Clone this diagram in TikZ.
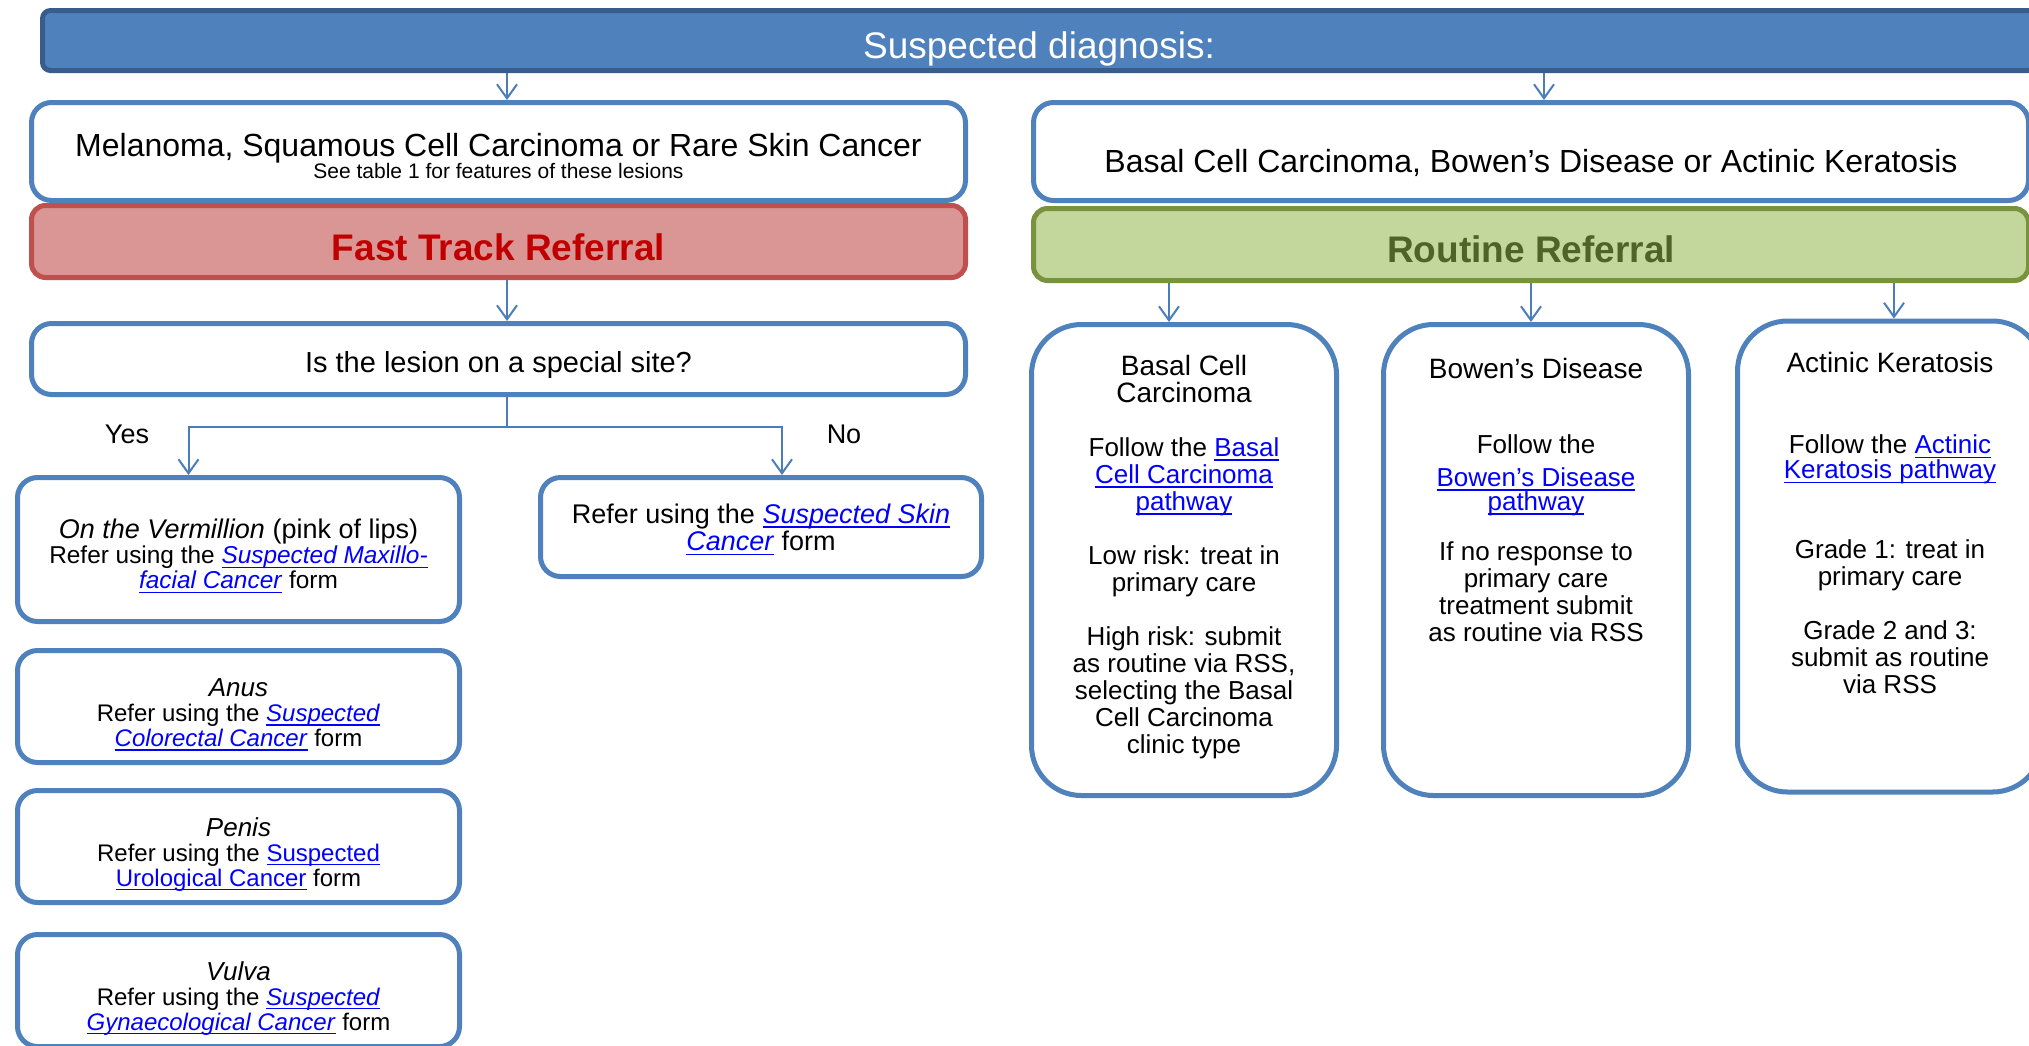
\documentclass[tikz,border=0pt]{standalone}
\usepackage{fontspec}
\setmainfont{Liberation Sans}
\usepackage{tikz}
\usetikzlibrary{positioning,arrows.meta}

\definecolor{barblue}{HTML}{4F81BD}
\definecolor{bardark}{HTML}{385D8A}
\definecolor{lineblue}{HTML}{4A7EBB}
\definecolor{linkblue}{HTML}{0000FF}
\definecolor{ftfill}{HTML}{D99694}
\definecolor{ftdraw}{HTML}{C0504D}
\definecolor{fttext}{HTML}{C00000}
\definecolor{rrfill}{HTML}{C3D69B}
\definecolor{rrdraw}{HTML}{77933C}
\definecolor{rrtext}{HTML}{4F6228}

\newcommand{\fsz}[2]{\fontsize{#1}{#2}\selectfont}
\newcommand{\lnk}[1]{\textcolor{linkblue}{\setbox0\hbox{#1}\rlap{\rule[-2.2pt]{\wd0}{0.8pt}}\box0}}

\begin{document}
\begin{tikzpicture}[x=0.5pt, y=-0.5pt, node distance={12pt},
    box/.style = {draw=barblue, line width=2.5pt, fill=white, rounded corners=10pt, align=center, inner sep=0pt},
    tall/.style = {box, rounded corners=25pt, minimum width=152.5pt, minimum height=235.5pt},
    site/.style = {box, minimum width=221pt, minimum height=56pt, font=\fsz{12}{12.5}, text height=42pt},
    txt/.style = {align=center, inner sep=0pt, outer sep=0pt},
    arr/.style = {draw=lineblue, line width=1pt, -{Straight Barb[length=7pt, width=10pt]}}]
    \useasboundingbox (0,0) rectangle (2029,1045);
    \clip (0,0) rectangle (2029,1045);

    \node[draw=bardark, fill=barblue, line width=2.5pt, rounded corners=4pt, minimum width=996.5pt, minimum height=30pt, text=white, font=\fsz{18.5}{20}, text height=17.5pt, text depth=0pt] (1) at (1039,40.5) {Suspected diagnosis:};

    % fast track side
    \node[box, minimum width=467pt, minimum height=49pt, font=\fsz{16}{11}, text height=27pt] (2) at (498.5,151.5) {Melanoma, Squamous Cell Carcinoma or Rare Skin Cancer\\{\fsz{10.5}{11}See table 1 for features of these lesions}};
    \node[box, draw=ftdraw, fill=ftfill, rounded corners=7pt, minimum width=467pt, minimum height=36pt, text=fttext, font=\fsz{18.5}{20}\bfseries, text height=18.5pt, text depth=0pt, below=0pt of 2] (3) {Fast Track Referral};
    \node[box, minimum width=467pt, minimum height=35.5pt, font=\fsz{14.5}{14.5}, text height=13pt, text depth=0pt, below=20.5pt of 3] (6) {Is the lesion on a special site?};

    \node[box, minimum width=221pt, minimum height=72pt, font=\fsz{12.2}{12.5}, text height=41.5pt] (7) at (238.5,549.5) {{\fsz{13.5}{13}\textit{On the Vermillion} (pink of lips)}\\Refer using the \lnk{\textit{Suspected Maxillo-}}\\\lnk{\textit{facial Cancer}} form};
    \node[box, minimum width=220.5pt, minimum height=49.5pt, font=\fsz{13.5}{12.5}, text height=26pt] (8) at (761,527) {Refer using the \lnk{\textit{Suspected Skin}}\\\lnk{\textit{Cancer}} form};
    \node[site, below=12pt of 7] (9) {{\fsz{13}{13}\textit{Anus}}\\Refer using the \lnk{\textit{Suspected}}\\\lnk{\textit{Colorectal Cancer}} form};
    \node[site, below=11.5pt of 9] (10) {{\fsz{13}{13}\textit{Penis}}\\Refer using the \lnk{Suspected}\\\lnk{Urological Cancer} form};
    \node[site, below=13.5pt of 10] (11) {{\fsz{13}{13}\textit{Vulva}}\\Refer using the \lnk{\textit{Suspected}}\\\lnk{\textit{Gynaecological Cancer}} form};

    \node[txt, font=\fsz{13.5}{13.5}, anchor=base] (16) at (127,443) {Yes};
    \node[txt, font=\fsz{13.5}{13.5}, anchor=base] (17) at (844,443) {No};

    % routine side
    \node[box, minimum width=497.5pt, minimum height=49pt, font=\fsz{16}{16}, text height=20.5pt, text depth=0pt] (4) at (1531,151.5) {Basal Cell Carcinoma, Bowen’s Disease or Actinic Keratosis};
    \node[box, draw=rrdraw, fill=rrfill, rounded corners=7pt, minimum width=497.5pt, minimum height=36pt, text=rrtext, font=\fsz{18.5}{20}\bfseries, text height=17.5pt, text depth=0pt, below=1.5pt of 4] (5) {Routine Referral};

    \node[tall] (12) at (1184,560) {};
    \node[tall, right=21pt of 12] (13) {};
    \node[tall, right=22pt of 13, yshift=1.75pt] (14) {};

    \node[txt, below=16.5pt of 12.north, font=\fsz{13}{13.5}] (15) {{\fsz{14}{14}Basal Cell}\\{\fsz{14}{14}Carcinoma}\\[13.5pt]Follow the \lnk{Basal}\\\lnk{Cell Carcinoma}\\\lnk{pathway}\\[13.5pt]Low risk: treat in\\primary care\\[13.5pt]High risk: submit\\as routine via RSS,\\selecting the Basal\\Cell Carcinoma\\clinic type};
    \node[txt, below=18pt of 13.north, font=\fsz{13}{13.5}] (18) {{\fsz{14}{14}Bowen’s Disease}\\[24pt]Follow the\\[3pt]\lnk{Bowen’s Disease}\\[-1.5pt]\lnk{pathway}\\[11.5pt]If no response to\\primary care\\treatment submit\\as routine via RSS};
    \node[txt, below=17pt of 14.north, font=\fsz{13}{13.5}] (19) {{\fsz{14}{14}Actinic Keratosis}\\[27pt]Follow the \lnk{Actinic}\\[-1pt]\lnk{Keratosis pathway}\\[26.5pt]Grade 1: treat in\\primary care\\[13.5pt]Grade 2 and 3:\\submit as routine\\via RSS};

    % connectors
    \draw[arr, transform canvas={xshift=4.25pt}] (2.north |- 1.south) -- (2.north);
    \draw[arr, transform canvas={xshift=6.5pt}] (4.north |- 1.south) -- (4.north);
    \draw[arr, transform canvas={xshift=4.25pt}] (3.south) -- (6.north);
    \draw[arr] ([xshift=4.25pt]6.south) -- ++(0,30) -| ([xshift=-25pt]7.north);
    \draw[arr] ([xshift=4.25pt]6.south) ++(0,30) -| ([xshift=10.5pt]8.north);
    \draw[arr, transform canvas={xshift=-7.5pt}] (12.north |- 5.south) -- (12.north);
    \draw[arr, transform canvas={xshift=-2.5pt}] (13.north |- 5.south) -- (13.north);
    \draw[arr, transform canvas={xshift=2pt}] (14.north |- 5.south) -- (14.north);
\end{tikzpicture}
\end{document}
